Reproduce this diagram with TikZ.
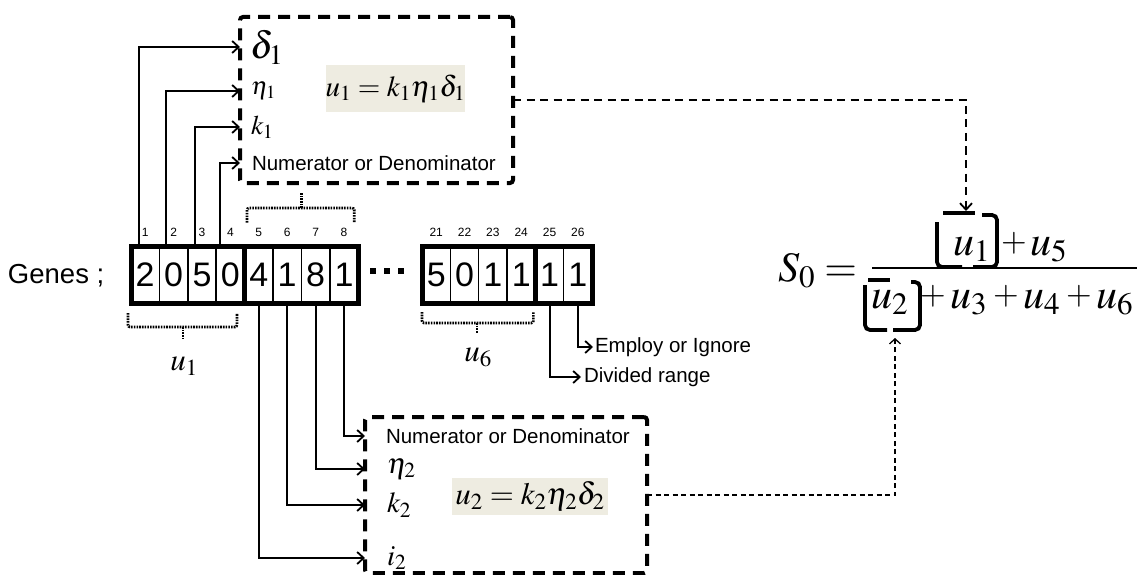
\documentclass[tikz,border=0pt]{standalone}
\usepackage{mathptmx}
\usepackage[no-math]{fontspec}
\setmainfont{Liberation Sans}
\usetikzlibrary{arrows.meta,calc}
\definecolor{eqbg}{HTML}{EEECE1}
\newcommand\fs[1]{\fontsize{#1}{#1}\selectfont}

\tikzset{
  every node/.style={inner sep=0pt, outer sep=0pt},
  cell/.style={draw, line width=1.5pt, minimum width=28.4pt, minimum height=56.5pt, font=\fs{34}},
  groupframe/.style={line width=5pt},
  idx/.style={font=\fs{12}},
  arrowtip/.style={-{Straight Barb[length=6.5pt,width=12pt,line width=1.8pt]}},
  conn/.style={line width=2pt, arrowtip},
  genebox/.style={draw, line width=4pt, dash pattern=on 12pt off 8pt, rounded corners=3pt},
  dotbrace/.style={line width=2.6pt, dash pattern=on 1.6pt off 1.1pt, rounded corners=2pt},
  note/.style={font=\fs{20.5}, anchor=west},
  eqbox/.style={fill=eqbg},
  link/.style={line width=2.8pt, dash pattern=on 8pt off 5.5pt, arrowtip},
  thinlink/.style={line width=1.5pt, dash pattern=on 5pt off 3.5pt,
    -{Straight Barb[length=5pt,width=11pt,line width=1.3pt]}},
  bracketpen/.style={line width=3.8pt, rounded corners=5pt},
  bigmath/.style={font=\fs{42}, anchor=base west},
  plusmath/.style={font=\fs{33}, anchor=base west},
}

\begin{document}
\begin{tikzpicture}[x=1pt,y=-1pt]
\useasboundingbox (0,0) rectangle (1137,575);

% ---- chromosome ----
\node[anchor=base west, font=\fs{27.5}] (genes) at (8,283) {Genes ;};
\foreach \i/\x/\v in {1/145.2/2, 2/173.6/0, 3/202/5, 4/230.4/0,
                      5/258.8/4, 6/287.2/1, 7/315.6/8, 8/344/1,
                      21/436.2/5, 22/464.5/0, 23/492.8/1, 24/521.2/1,
                      25/549.5/1, 26/577.8/1}{
  \node[cell] (c\i) at (\x,274.75) {\v};
  \node[idx] (n\i) at ($(c\i.north)+(0,-14)$) {\i};
}
\draw[groupframe] (c1.north west) rectangle (c4.south east);
\draw[groupframe] (c5.north west) rectangle (c8.south east);
\draw[groupframe] (c21.north west) rectangle (c24.south east);
\draw[groupframe] (c25.north west) rectangle (c26.south east);
\foreach \x in {370,384,398}{\fill (\x,268) rectangle ++(6,6);}

% ---- braces ----
\draw[dotbrace] ($(c5.north west)+(2.4,-24)$) -- ++(0,-14.5) -- ($(c8.north east)+(-4,-38.5)$) -- ++(0,14.5);
\draw[dotbrace] ($(c5.north west)!0.5!(c8.north east)+(0,-38.5)$) -- ++(0,-15);
\draw[dotbrace] ($(c1.south west)+(-3,10)$) -- ++(0,14) -- ($(c4.south east)+(-7.6,24)$) -- ++(0,-14);
\draw[dotbrace] (183,327) -- (183,340);
\node[font=\fs{31}] (u1lbl) at (184,366) {$u_1$};
\draw[dotbrace] ($(c21.south west)+(0,9)$) -- ++(0,11) -- ($(c24.south east)+(-2,20)$) -- ++(0,-11);
\draw[dotbrace] (477,323) -- (477,333);
\node[font=\fs{31}] (u6lbl) at (478,357) {$u_6$};

% ---- upper gene box ----
\node[genebox, minimum width=273pt, minimum height=166pt] (box1) at (376.5,100) {};
\node[anchor=west, font=\fs{38}] (d1) at (250,47) {$\delta_1$};
\node[anchor=west, font=\fs{25}] (e1) at (251,91) {$\eta_1$};
\node[anchor=west, font=\fs{27}] (k1) at (251,127) {$k_1$};
\node[note] (nd1) at (252,163) {Numerator or Denominator};
\node[eqbox, minimum width=139pt, minimum height=47pt, font=\fs{29}] (eq1) at (395.5,88.5) {$u_1 = k_1\eta_1\delta_1$};

\draw[conn] ($(c1.north west)+(8,0)$) |- (box1.west |- d1.west);
\draw[conn] ($(c2.north west)+(7,0)$) |- (box1.west |- e1.west);
\draw[conn] ($(c3.north west)+(7,0)$) |- (box1.west |- k1.west);
\draw[conn] ($(c4.north west)+(4,0)$) |- (box1.west |- nd1.west);

% ---- lower gene box ----
\node[genebox, minimum width=282pt, minimum height=156pt] (box2) at (506,495) {};
\node[note] (nd2) at (386,436) {Numerator or Denominator};
\node[anchor=west, font=\fs{29}] (e2) at (387,469) {$\eta_2$};
\node[anchor=west, font=\fs{29}] (k2) at (387,505) {$k_2$};
\node[anchor=west, font=\fs{29}] (i2) at (387,558) {$i_2$};
\node[eqbox, minimum width=156pt, minimum height=37pt, font=\fs{31}] (eq2) at (530,496.5) {$u_2 = k_2\eta_2\delta_2$};

\draw[conn] (c8.south) |- (box2.west |- nd2.west);
\draw[conn] (c7.south) |- (box2.west |- e2.west);
\draw[conn] (c6.south) |- (box2.west |- k2.west);
\draw[conn] (c5.south) |- (box2.west |- i2.west);

% ---- control genes ----
\node[note] (div) at (584,377) {Divided range};
\node[note] (emp) at (595,347) {Employ or Ignore};
\draw[conn] (c25.south) |- ([xshift=-3pt]div.west);
\draw[conn] (c26.south) |- ([xshift=-2pt]emp.west);

% ---- fitness formula ----
\node[bigmath, anchor=base east] (lhs) at (857,281) {$S_0 =$};
\node[bigmath] (t1) at (953,255) {$u_1$};
\node[plusmath] (t2) at (1001,251.5) {$+$};
\node[bigmath] (t3) at (1030,255) {$u_5$};
\node[bigmath] (b1) at (871,308) {$u_2$};
\node[plusmath] (b2) at (920,304.5) {$+$};
\node[bigmath] (b3) at (950,308) {$u_3$};
\node[plusmath] (b4) at (993,304.5) {$+$};
\node[bigmath] (b5) at (1023,308) {$u_4$};
\node[plusmath] (b6) at (1066,304.5) {$+$};
\node[bigmath] (b7) at (1096,308) {$u_6$};
\draw[line width=1.3pt] (872,268) -- (1137,268);

% bracket marks round u_1 and u_2
\draw[bracketpen] (943,213) -- (975,213);
\draw[bracketpen] (937,222) -- (937,267) -- (962,267);
\draw[bracketpen] (982,215) -- (997,215) -- (997,267) -- (973,267);
\draw[bracketpen] (868,280) -- (890,280);
\draw[bracketpen] (865,285) -- (865,330) -- (887,330);
\draw[bracketpen] (911,282) -- (920,282) -- (920,330) -- (893,330);

\coordinate (u1top) at (966,211);
\coordinate (u2bot) at (895,338);
\draw[link] (box1.east) -| (u1top);
\draw[thinlink] (box2.east) -| (u2bot);
\end{tikzpicture}
\end{document}
